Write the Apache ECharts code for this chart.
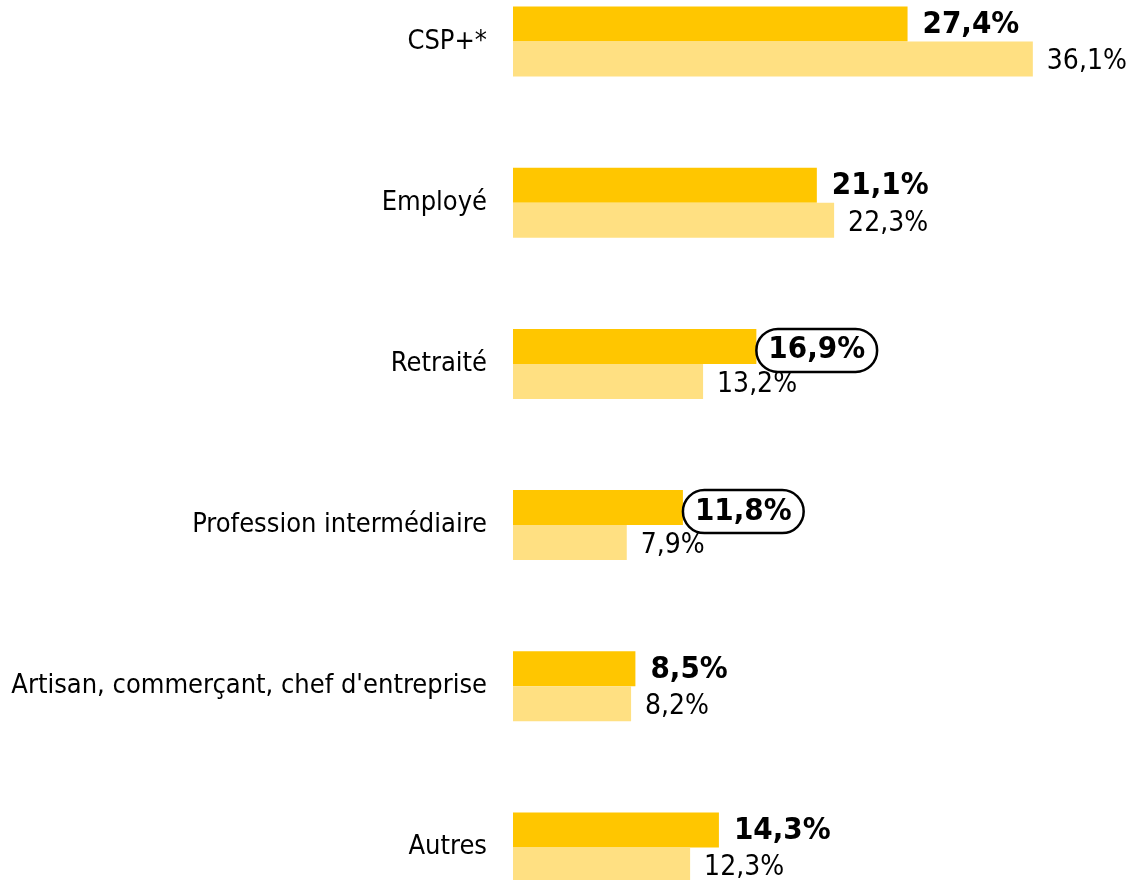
<!DOCTYPE html>
<html>
<head>
<meta charset="utf-8">
<script src="https://cdn.jsdelivr.net/npm/echarts@6/dist/echarts.min.js"></script>
<style>
  html, body { margin: 0; padding: 0; background: #fff; overflow: hidden; }
  #chart { width: 1126px; height: 880px; }
</style>
</head>
<body>
<div id="chart"></div>
<script>
// catégories (du haut vers le bas)
const categories = ['CSP+*', 'Employé', 'Retraité', 'Profession intermédiaire', "Artisan, commerçant, chef d'entreprise", 'Autres'];
// série foncée (valeurs en gras)
const darkValues = [27.4, 21.1, 16.9, 11.8, 8.5, 14.3];
// série claire
const lightValues = [36.1, 22.3, 13.2, 7.9, 8.2, 12.3];
// valeurs entourées
const circled = ['Retraité', 'Profession intermédiaire'];

const FONT = '"DejaVu Sans Condensed", "Liberation Sans Narrow", sans-serif';

const chart = echarts.init(document.getElementById('chart'));

function fmt(p) {
  return p.value.toFixed(1).replace('.', ',') + '%';
}

const darkData = darkValues.map((v, i) => {
  if (circled.indexOf(categories[i]) === -1) return v;
  return {
    value: v,
    label: {
      distance: 0,
      offset: [0, 4],
      borderColor: '#000',
      borderWidth: 2.5,
      borderRadius: 24,
      padding: [7, 12, 5, 12]
    }
  };
});

const option = {
  animation: false,
  grid: {
    left: 513,
    width: 576,
    top: -39,
    height: 967,
    containLabel: false,
    outerBoundsMode: 'none'
  },
  xAxis: {
    type: 'value',
    min: 0,
    max: 40,
    show: false
  },
  yAxis: {
    type: 'category',
    data: categories,
    inverse: true,
    axisLine: { show: false },
    axisTick: { show: false },
    axisLabel: {
      margin: 26,
      color: '#000',
      fontFamily: FONT,
      fontSize: 27
    }
  },
  series: [
    {
      name: 'dark',
      type: 'bar',
      data: darkData,
      barWidth: 35,
      barGap: '0%',
      itemStyle: { color: '#FFC600' },
      label: {
        show: true,
        position: 'right',
        distance: 15,
        offset: [0, 1],
        formatter: fmt,
        color: '#000',
        fontFamily: FONT,
        fontWeight: 'bold',
        fontSize: 31
      }
    },
    {
      name: 'light',
      type: 'bar',
      data: lightValues,
      barWidth: 35,
      itemStyle: { color: '#FFE082' },
      label: {
        show: true,
        position: 'right',
        distance: 14,
        offset: [0, 3],
        formatter: fmt,
        color: '#000',
        fontFamily: FONT,
        fontSize: 28
      }
    }
  ]
};

chart.setOption(option);
</script>
</body>
</html>
